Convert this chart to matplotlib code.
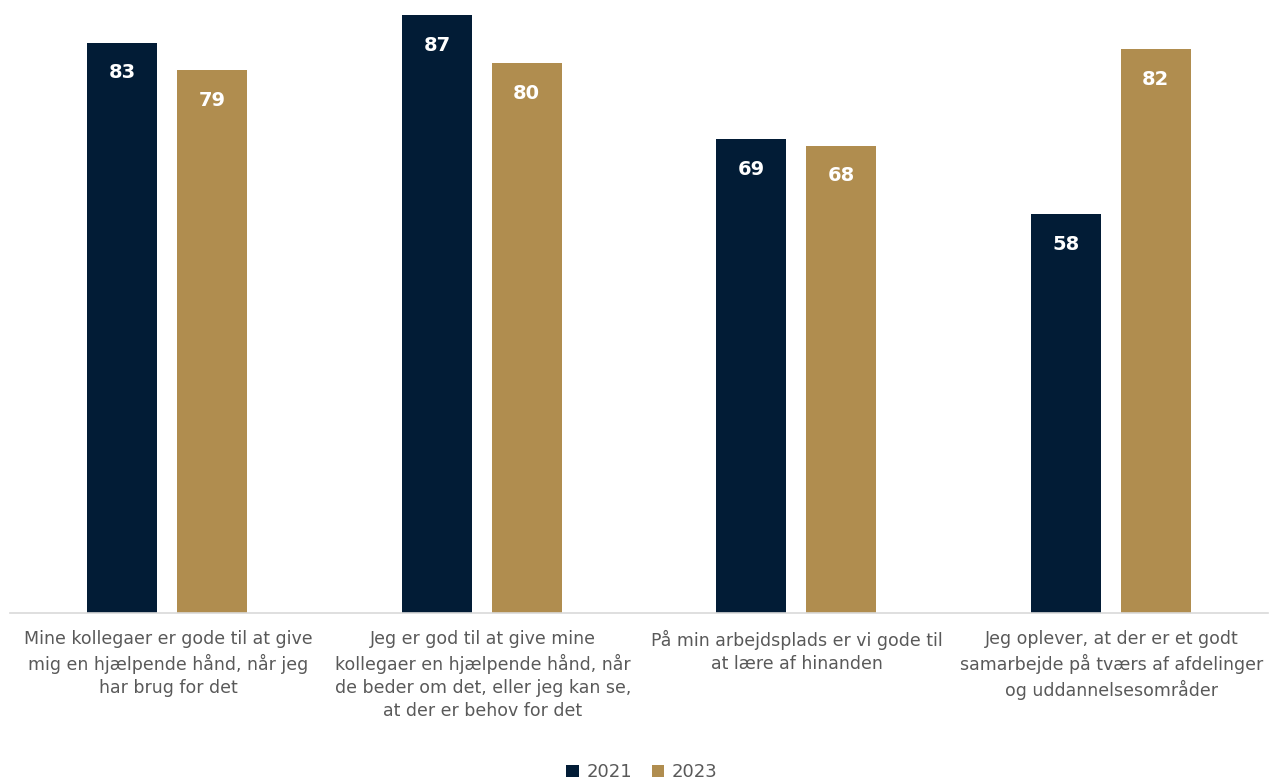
import numpy as np
import matplotlib
matplotlib.use("Agg")
import matplotlib.pyplot as plt

categories = [
    "Mine kollegaer er gode til at give\nmig en hjælpende hånd, når jeg\nhar brug for det",
    "Jeg er god til at give mine\nkollegaer en hjælpende hånd, når\nde beder om det, eller jeg kan se,\nat der er behov for det",
    "På min arbejdsplads er vi gode til\nat lære af hinanden",
    "Jeg oplever, at der er et godt\nsamarbejde på tværs af afdelinger\nog uddannelsesområder",
]
series_names = ["2021", "2023"]
values_2021 = [83, 87, 69, 58]
values_2023 = [79, 80, 68, 82]

navy = "#021C36"
gold = "#B08D4F"
grey = "#595959"

fig = plt.figure(figsize=(12.71, 7.82), dpi=100)
ax = fig.add_axes([10 / 1271, 169 / 782, 1258 / 1271, 613 / 782])

x = np.arange(len(categories))
w = 70 / 315
off = 45 / 315
b1 = ax.bar(x - off, values_2021, w, color=navy, label=series_names[0])
b2 = ax.bar(x + off, values_2023, w, color=gold, label=series_names[1])

# value labels inside the bars, near the top
for bars, vals in [(b1, values_2021), (b2, values_2023)]:
    for rect, v in zip(bars, vals):
        ax.text(rect.get_x() + rect.get_width() / 2, v - 4.4, str(v),
                ha="center", va="center", color="white", fontsize=14, weight="bold")

ax.set_xlim(-0.5, 3.5)
ax.set_ylim(0, 89.2)
ax.set_yticks([])
ax.set_xticks(x + 0.003)
ax.set_xticklabels(categories, fontsize=12.5, color=grey, linespacing=1.38)
ax.tick_params(axis="x", length=0, pad=12)
for s in ["top", "right", "left"]:
    ax.spines[s].set_visible(False)
ax.spines["bottom"].set_color("#d9d9d9")
ax.spines["bottom"].set_linewidth(1.2)

fig.legend(handles=[b1, b2], labels=series_names, loc="lower center",
           bbox_to_anchor=(0.505, -0.02), ncol=2, frameon=False, fontsize=13,
           handlelength=0.7, handleheight=0.7, handletextpad=0.4, columnspacing=1.1,
           labelcolor=grey)

fig.savefig("out.png", dpi=100)
